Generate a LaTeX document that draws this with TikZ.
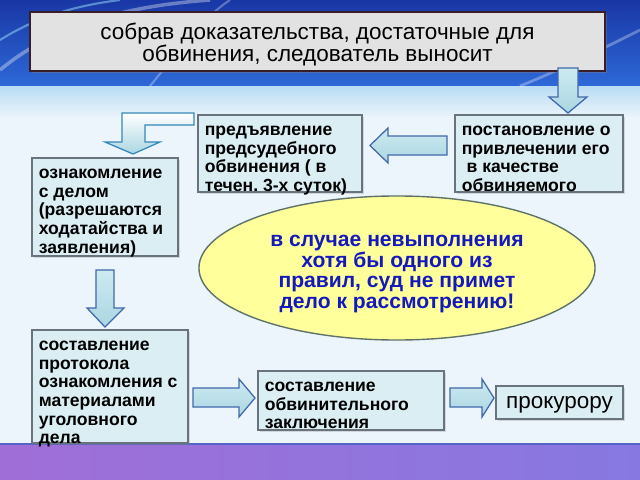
\documentclass[tikz,border=0pt]{standalone}
\usepackage{fontspec}
\setmainfont{Liberation Sans}
\usetikzlibrary{shapes.geometric,shadows}

\definecolor{boxfill}{RGB}{219,238,244}
\definecolor{boxline}{RGB}{105,115,125}
\definecolor{arrowtop}{RGB}{205,234,240}
\definecolor{arrowbot}{RGB}{170,214,226}
\definecolor{arrowline}{RGB}{65,105,170}
\definecolor{warnfill}{RGB}{255,255,155}
\definecolor{warnline}{RGB}{95,115,105}
\definecolor{warntext}{RGB}{20,25,190}
\definecolor{titlefill}{RGB}{226,226,226}
\definecolor{titleline}{RGB}{55,30,40}
\definecolor{topblue}{RGB}{25,55,165}
\definecolor{topblue2}{RGB}{45,105,215}
\definecolor{fadeblue}{RGB}{185,220,245}
\definecolor{midbg}{RGB}{236,245,251}
\definecolor{purp1}{RGB}{160,110,215}
\definecolor{purp2}{RGB}{135,120,225}
\definecolor{bandline}{RGB}{85,100,200}

% text set from the top of a box: width, height, lines
\newcommand{\boxtext}[3]{\parbox[c][#2][t]{#1}{\raggedright\rule{0pt}{14.5pt}#3}}

\begin{document}
\begin{tikzpicture}[x=0.025cm,y=-0.025cm,
  box/.style={draw=boxline, line width=0.8pt, fill=boxfill,
    inner xsep=0.17cm, inner ysep=0pt,
    font=\bfseries\fontsize{12.5}{13.3}\selectfont,
    drop shadow={opacity=0.25,shadow xshift=1.2pt,shadow yshift=-1.2pt}},
  blockarrow/.style={draw=arrowline, line width=0.9pt, top color=arrowtop,
    bottom color=arrowbot, line join=miter}]
\useasboundingbox (0,0) rectangle (640,480);

% background
\fill[midbg] (0,0) rectangle (640,480);
\shade[top color=topblue, bottom color=topblue2] (0,0) rectangle (640,86);
\shade[top color=fadeblue, bottom color=midbg] (0,86) rectangle (640,118);
\draw[white, opacity=0.35, line width=2.5pt] (0,70) .. controls (60,20) and (140,5) .. (210,0);
\draw[cyan!40, opacity=0.5, line width=1.5pt] (0,40) .. controls (40,15) and (80,5) .. (120,0);
\draw[white, opacity=0.3, line width=1.5pt] (150,86) .. controls (180,50) and (200,20) .. (230,0);
\draw[white, opacity=0.3, line width=2pt] (640,30) .. controls (600,50) and (560,70) .. (520,86);
\shade[left color=purp1, right color=purp2] (0,444) rectangle (640,480);
\draw[bandline, line width=1pt] (0,444) -- (640,444);

% title
\node[draw=titleline, line width=1.2pt, fill=titlefill, align=center,
  minimum width=14.375cm, minimum height=1.325cm,
  font=\fontsize{16}{15.6}\selectfont,
  drop shadow={opacity=0.4,shadow xshift=1.5pt,shadow yshift=-1.5pt}]
  (title) at (317.5,41.5) {\rule{0pt}{16.5pt}собрав доказательства, достаточные для\\обвинения, следователь выносит};

% boxes
\node[box] (post) at (539,153.5)
  {\boxtext{3.86cm}{1.925cm}{постановление о\\привлечении его\\\hspace*{3.5pt}в качестве\\обвиняемого}};
\node[box] (pred) at (280,153.5)
  {\boxtext{3.76cm}{1.925cm}{предъявление\\предсудебного\\обвинения ( в\\течен.\ 3-х суток)}};
\node[box] (oznak) at (105,207)
  {\boxtext{3.31cm}{2.45cm}{ознакомление\\с делом\\(разрешаются\\ходатайства и\\заявления)}};
\node[box] (prot) at (110,386.5)
  {\boxtext{3.56cm}{2.825cm}{составление\\протокола\\ознакомления с\\материалами\\уголовного\\дела}};
\node[box] (zakl) at (351,400.5)
  {\boxtext{4.31cm}{1.475cm}{составление\\обвинительного\\заключения}};
\node[box, minimum width=3.175cm, minimum height=0.825cm, text depth=0pt,
  font=\fontsize{16}{18}\selectfont]
  (prok) at (559.5,402.5) {прокурору};

% warning
\node[ellipse, draw=warnline, line width=1pt, fill=warnfill, inner sep=0pt,
  minimum width=9.9cm, minimum height=3.6cm, align=center, text=warntext,
  font=\bfseries\fontsize{15}{14.8}\selectfont]
  (warn) at (397,268) {\rule{0pt}{16.5pt}в случае невыполнения\\хотя бы одного из\\правил, суд не примет\\дело к рассмотрению!};

% arrows
\draw[blockarrow] (558,68) -- (578,68) -- (578,97) -- (587,97) -- (568,113)
  -- (549,97) -- (558,97) -- cycle;
\draw[blockarrow] (447,136) -- (388,136) -- (388,128) -- (370,145.5)
  -- (388,163) -- (388,155) -- (447,155) -- cycle;
\draw[blockarrow, top color=white, bottom color=arrowbot, draw=arrowline!80!cyan]
  (194,113) -- (122,113) -- (122,142) -- (105,142) -- (133,154)
  -- (160,142) -- (145,142) -- (145,125) -- (194,125) -- cycle;
\draw[blockarrow] (96,270) -- (114,270) -- (114,308) -- (124,308) -- (105,327)
  -- (87,308) -- (96,308) -- cycle;
\foreach \xa/\xb/\xc in {193/239/255, 450/482/494}
\draw[blockarrow] (\xa,388) -- (\xb,388) -- (\xb,379) -- (\xc,398)
  -- (\xb,417) -- (\xb,407) -- (\xa,407) -- cycle;
\end{tikzpicture}
\end{document}
